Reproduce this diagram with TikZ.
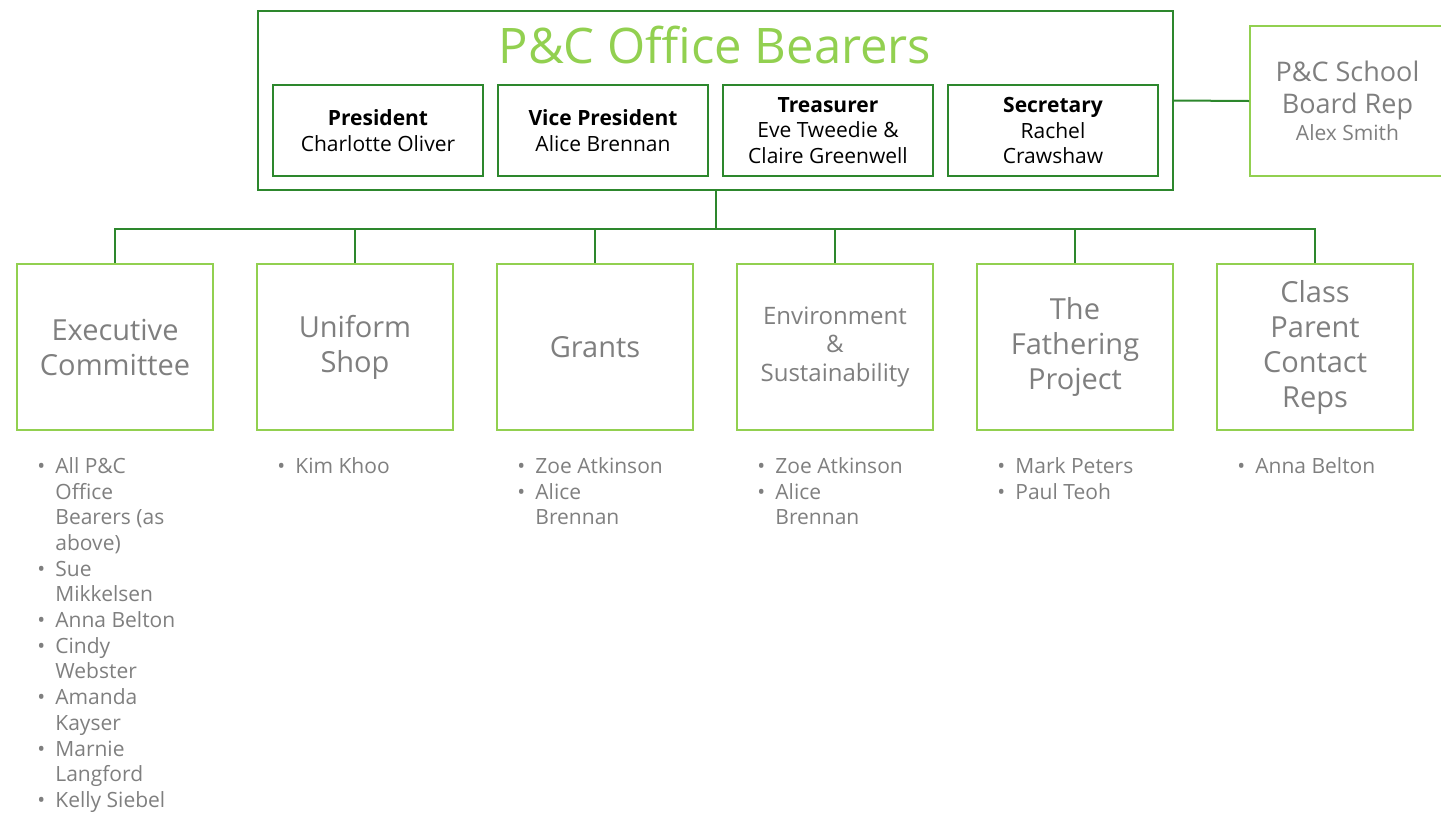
\documentclass[tikz,border=0pt]{standalone}
\usepackage{fontspec}
\setmainfont{Open Sans}
\usetikzlibrary{positioning}
\definecolor{linegreen}{RGB}{45,135,45}
\definecolor{titlegreen}{RGB}{146,208,80}
\definecolor{textgrey}{RGB}{127,127,127}
\newcommand{\itm}{\makebox[9pt][l]{•}}
\newcommand{\cnt}{\hspace*{9pt}}

\begin{document}
\begin{tikzpicture}[x=0.5pt, y=-0.5pt,
	bearer/.style={draw=linegreen, line width=1pt, rectangle, minimum width=105pt,
	minimum height=45.5pt, align=center, inner sep=0pt, font=\fontsize{10.5}{12.85}\selectfont},
	team/.style={draw=titlegreen, line width=1pt, rectangle, minimum width=98pt,
	minimum height=83pt, align=center, inner sep=0pt, text=textgrey,
	font=\fontsize{14.5}{17.5}\selectfont},
	members/.style={anchor=north west, align=left, inner sep=0pt, text=textgrey,
	font=\fontsize{10.5}{12.85}\selectfont},
	link/.style={draw=linegreen, line width=1pt}]
		\useasboundingbox (0,0) rectangle (1441,815);
		
		%Office bearers block
		\node (office) at (715.5,100.5) [draw=linegreen, line width=1pt, rectangle,
		minimum width=457.5pt, minimum height=89.5pt]{};
		\node (officetitle) at (715,45) [text=titlegreen,
		font=\fontsize{24.5}{29}\selectfont]{P\&C Office Bearers};
		\node (president) at (378,130.5) [bearer]{\textbf{President}\\Charlotte Oliver};
		\node (vicepresident) [bearer, right=6.5pt of president]{\textbf{Vice President}\\Alice Brennan};
		\node (treasurer) [bearer, right=6.5pt of vicepresident]{\textbf{Treasurer}\\Eve Tweedie \&\\Claire Greenwell};
		\node (secretary) [bearer, right=6.5pt of treasurer]{\textbf{Secretary}\\Rachel\\Crawshaw};
		
		%School board rep on the right
		\node (boardrep) at (1347.5,101) [draw=titlegreen, line width=1pt, rectangle,
		minimum width=97.5pt, minimum height=75pt, align=center, text=textgrey,
		font=\fontsize{13.5}{16}\selectfont]{P\&C School\\Board Rep\\[-2.5pt]{\fontsize{10.5}{12}\selectfont Alex Smith}};
		
		%Committees
		\node (exec) at (115,347) [team]{Executive\\Committee};
		\node (uniform) [team, right=21pt of exec]{Uniform\\Shop};
		\node (grants) [team, right=21pt of uniform]{Grants};
		\node (environ) [team, right=21pt of grants,
		font=\fontsize{12}{14.25}\selectfont]{Environment\\\&\\Sustainability};
		\node (fathering) [team, right=21pt of environ]{The\\Fathering\\Project};
		\node (classreps) [team, right=21pt of fathering]{Class\\Parent\\Contact\\Reps};
		
		%Members under each committee
		\node (execlist) at (37,457) [members]{\itm All P\&C\\\cnt Office\\\cnt Bearers (as\\\cnt above)\\
		\itm Sue\\\cnt Mikkelsen\\\itm Anna Belton\\\itm Cindy\\\cnt Webster\\\itm Amanda\\\cnt Kayser\\
		\itm Marnie\\\cnt Langford\\\itm Kelly Siebel};
		\node (uniformlist) at (277,457) [members]{\itm Kim Khoo};
		\node (grantslist) at (517,457) [members]{\itm Zoe Atkinson\\\itm Alice\\\cnt Brennan};
		\node (environlist) at (757,457) [members]{\itm Zoe Atkinson\\\itm Alice\\\cnt Brennan};
		\node (fatheringlist) at (997,457) [members]{\itm Mark Peters\\\itm Paul Teoh};
		\node (classrepslist) at (1237,457) [members]{\itm Anna Belton};
		
		%Links among blocks
		\draw[link] (office.east) -- (boardrep.west);
		\foreach \t in {exec, uniform, grants, environ, fathering, classreps}
		\draw[link] (office.south) -- ++(0,38) -| (\t.north);
		
\end{tikzpicture}
\end{document}
